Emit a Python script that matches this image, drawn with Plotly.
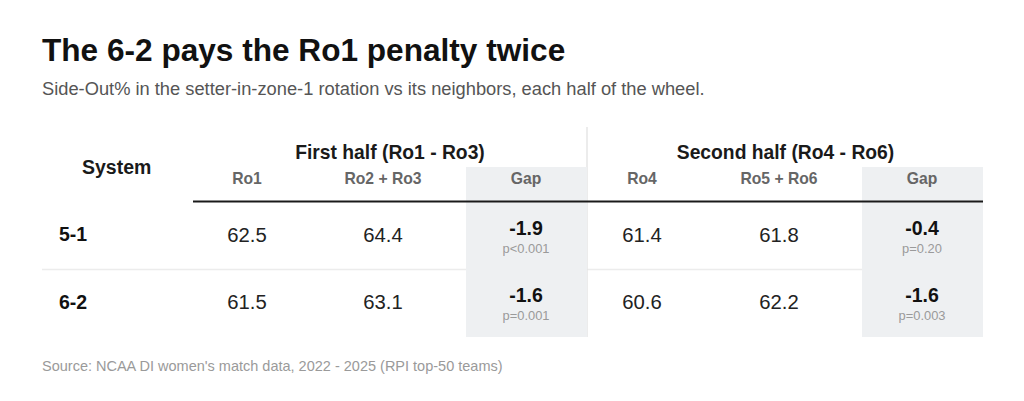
import plotly.graph_objects as go

# ---- data ----
systems = ["5-1", "6-2"]
half_titles = ["First half (Ro1 - Ro3)", "Second half (Ro4 - Ro6)"]
sub_headers = ["Ro1", "Ro2 + Ro3", "Gap", "Ro4", "Ro5 + Ro6", "Gap"]
ro1 = [62.5, 61.5]
ro23 = [64.4, 63.1]
gap1 = [-1.9, -1.6]
p1 = ["p<0.001", "p=0.001"]
ro4 = [61.4, 60.6]
ro56 = [61.8, 62.2]
gap2 = [-0.4, -1.6]
p2 = ["p=0.20", "p=0.003"]

title = "The 6-2 pays the Ro1 penalty twice"
subtitle = "Side-Out% in the setter-in-zone-1 rotation vs its neighbors, each half of the wheel."
source = "Source: NCAA DI women's match data, 2022 - 2025 (RPI top-50 teams)"

# ---- layout (page pixel coords; page body has an 8px margin) ----
W, H = 1024, 401
OFF = 8
FONT = "Liberation Sans, Arial, sans-serif"
col_x = [247, 383, 526, 642, 779, 922]
half_x = [390, 785.5]
row_y = [235, 302.5]
gap_cols = [(466, 587), (862, 983)]

fig = go.Figure()

shapes = []
shapes.append(dict(type="line", x0=42, x1=983, y0=269.5, y1=269.5,
                   line=dict(color="#ececec", width=1.5), layer="below"))
shapes.append(dict(type="line", x0=587, x1=587, y0=127, y1=337,
                   line=dict(color="#e6e6e6", width=1.5), layer="below"))
for x0, x1 in gap_cols:
    shapes.append(dict(type="rect", x0=x0, x1=x1, y0=167, y1=337,
                       fillcolor="#eef0f2", line=dict(width=0), layer="below"))
shapes.append(dict(type="line", x0=193, x1=983, y0=201.5, y1=201.5,
                   line=dict(color="#1a1a1a", width=2.2)))

def txt(xs, ys, texts, size, color, bold=False, pos="middle center"):
    ys = [y + 0.08 * size for y in ys]
    fig.add_trace(go.Scatter(
        x=xs, y=ys, mode="text", text=[f"<b>{t}</b>" if bold else t for t in texts],
        textposition=pos, textfont=dict(family=FONT, size=size, color=color),
        hoverinfo="skip", showlegend=False, cliponaxis=False))

# headers
txt([116.7], [168], ["System"], 19.5, "#1a1a1a", bold=True)
txt(half_x, [152.5, 152.5], half_titles, 19.3, "#1a1a1a", bold=True)
txt(col_x, [179] * 6, sub_headers, 15.7, "#666666", bold=True)

# row labels
txt([59, 59], row_y, systems, 19.5, "#111111", bold=True, pos="middle right")

# values
fmt = lambda v: f"{v:.1f}"
txt([col_x[0]] * 2, row_y, [fmt(v) for v in ro1], 20.3, "#222222")
txt([col_x[1]] * 2, row_y, [fmt(v) for v in ro23], 20.3, "#222222")
txt([col_x[3]] * 2, row_y, [fmt(v) for v in ro4], 20.3, "#222222")
txt([col_x[4]] * 2, row_y, [fmt(v) for v in ro56], 20.3, "#222222")

gap_y = [y - 6.5 for y in row_y]
p_y = [y + 13.5 for y in row_y]
txt([col_x[2]] * 2, gap_y, [fmt(v) for v in gap1], 19.5, "#111111", bold=True)
txt([col_x[5]] * 2, gap_y, [fmt(v) for v in gap2], 19.5, "#111111", bold=True)
txt([col_x[2]] * 2, p_y, p1, 12.9, "#9a9a9a")
txt([col_x[5]] * 2, p_y, p2, 12.9, "#9a9a9a")

# title, subtitle, source
txt([42], [51], [title], 31.6, "#111111", bold=True, pos="middle right")
txt([42], [89], [subtitle], 18.3, "#555555", pos="middle right")
txt([42], [366], [source], 14.5, "#9a9a9a", pos="middle right")

fig.update_layout(
    width=W - OFF, height=H - OFF, margin=dict(l=0, r=0, t=0, b=0),
    paper_bgcolor="white", plot_bgcolor="white",
    xaxis=dict(range=[OFF, W], visible=False, fixedrange=True),
    yaxis=dict(range=[H, OFF], visible=False, fixedrange=True),
    shapes=shapes,
)
fig.write_html("out.html", config={"displayModeBar": False})
